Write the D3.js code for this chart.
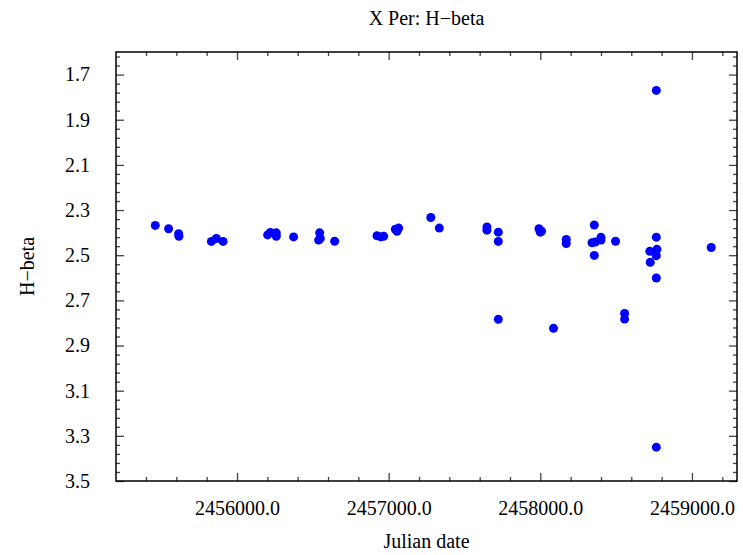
<!DOCTYPE html>
<html>
<head>
<meta charset="utf-8">
<script src="https://cdn.jsdelivr.net/npm/d3@7"></script>
<style>
  body { margin: 0; background: #fff; }
  text { font-family: "Liberation Serif", "Times New Roman", serif; fill: #000; }
</style>
</head>
<body>
<div id="scatter"></div>
<script>
var julianDates = [
    2455461, 2455549, 2455615, 2455617, 2455831, 2455864, 2455908,
    2456202, 2456220, 2456259, 2456259, 2456373, 2456545, 2456538, 2456549, 2456644,
    2456923, 2456949, 2456967, 2457044, 2457066, 2457055, 2457278, 2457334,
    2457648, 2457648, 2457723, 2457723, 2457723, 2457991, 2458000, 2458008, 2458087,
    2458171, 2458171, 2458356, 2458341, 2458362, 2458400, 2458400, 2458356, 2458496,
    2458556, 2458556, 2458765, 2458722, 2458769, 2458765, 2458725, 2458765,
    2458765, 2458765, 2459127
];
var hbetaValues = [
    2.368, 2.383, 2.405, 2.416, 2.439, 2.426, 2.439,
    2.410, 2.399, 2.401, 2.416, 2.419, 2.401, 2.433, 2.426, 2.438,
    2.414, 2.419, 2.416, 2.385, 2.380, 2.394, 2.333, 2.380,
    2.375, 2.389, 2.398, 2.439, 2.784, 2.383, 2.398, 2.394, 2.824,
    2.430, 2.448, 2.366, 2.445, 2.442, 2.421, 2.433, 2.501, 2.438,
    2.758, 2.783, 2.420, 2.483, 2.474, 2.502, 2.531, 2.601,
    1.770, 3.350, 2.466
];
var xTickValues = [2456000, 2457000, 2458000, 2459000];
var yTickValues = [1.7, 1.9, 2.1, 2.3, 2.5, 2.7, 2.9, 3.1, 3.3, 3.5];
var xDomain = [2455202, 2459297];
var yDomain = [1.6, 3.5];

var titleText = "X Per: H\u2212beta";
var xLabelText = "Julian date";
var yLabelText = "H\u2212beta";

var svgWidth = 743;
var svgHeight = 555;
var fontSize = 20;

var margin = { top: 52, right: 6, bottom: 74, left: 116 };
var width = svgWidth - margin.left - margin.right;
var height = svgHeight - margin.top - margin.bottom;

var data = julianDates.map((d, i) => ({ jd: d, hb: hbetaValues[i] }));

var svg = d3.select("#scatter")
    .append("svg")
    .attr("width", svgWidth)
    .attr("height", svgHeight);

var chartGroup = svg.append("g")
    .attr("transform", `translate(${margin.left}, ${margin.top})`);

// scales (y runs downward like a magnitude axis)
var xScale = d3.scaleLinear().domain(xDomain).range([0, width]);
var yScale = d3.scaleLinear().domain(yDomain).range([0, height]);

// minor ticks every 200 days and every 0.04
var xMinor = d3.range(2455400, xDomain[1], 200).filter(v => v % 1000 !== 0);
var yMinor = d3.range(-2, 48).map(k => +(1.7 + k * 0.04).toFixed(2))
    .filter(v => v > yDomain[0] && v < yDomain[1])
    .filter(v => yTickValues.indexOf(v) < 0);

function styleTicks(g) {
    g.select(".domain").remove();
    g.selectAll(".tick line").attr("stroke", "#444").attr("stroke-width", 1.3);
}

// bottom axis with labels
chartGroup.append("g")
    .attr("transform", `translate(0, ${height})`)
    .call(d3.axisBottom(xScale).tickValues(xTickValues).tickSize(-8).tickPadding(20)
        .tickFormat(d => d3.format(".1f")(d)))
    .call(styleTicks)
    .call(g => g.selectAll("text").attr("font-size", fontSize).attr("font-family", "Liberation Serif"));

chartGroup.append("g")
    .attr("transform", `translate(0, ${height})`)
    .call(d3.axisBottom(xScale).tickValues(xMinor).tickSize(-4).tickFormat(""))
    .call(styleTicks);

// top axis, ticks only
chartGroup.append("g")
    .call(d3.axisTop(xScale).tickValues(xTickValues).tickSize(-8).tickFormat(""))
    .call(styleTicks);
chartGroup.append("g")
    .call(d3.axisTop(xScale).tickValues(xMinor).tickSize(-4).tickFormat(""))
    .call(styleTicks);

// left axis with labels
chartGroup.append("g")
    .call(d3.axisLeft(yScale).tickValues(yTickValues).tickSize(-8).tickPadding(26)
        .tickFormat(d3.format(".1f")))
    .call(styleTicks)
    .call(g => g.selectAll("text").attr("font-size", fontSize).attr("font-family", "Liberation Serif"));
chartGroup.append("g")
    .call(d3.axisLeft(yScale).tickValues(yMinor).tickSize(-4).tickFormat(""))
    .call(styleTicks);

// right axis, ticks only
chartGroup.append("g")
    .attr("transform", `translate(${width}, 0)`)
    .call(d3.axisRight(yScale).tickValues(yTickValues).tickSize(-8).tickFormat(""))
    .call(styleTicks);
chartGroup.append("g")
    .attr("transform", `translate(${width}, 0)`)
    .call(d3.axisRight(yScale).tickValues(yMinor).tickSize(-4).tickFormat(""))
    .call(styleTicks);

// plot frame
chartGroup.append("rect")
    .attr("width", width)
    .attr("height", height)
    .attr("fill", "none")
    .attr("stroke", "#000")
    .attr("stroke-width", 1.5);

// the dots
chartGroup.selectAll("circle")
    .data(data)
    .enter()
    .append("circle")
    .attr("cx", d => xScale(d.jd))
    .attr("cy", d => yScale(d.hb))
    .attr("r", 4.5)
    .attr("fill", "#0000ff");

// title and axis labels
svg.append("text")
    .attr("x", margin.left + width / 2)
    .attr("y", 25)
    .attr("text-anchor", "middle")
    .attr("font-size", fontSize)
    .text(titleText);

svg.append("text")
    .attr("x", margin.left + width / 2)
    .attr("y", 548)
    .attr("text-anchor", "middle")
    .attr("font-size", fontSize)
    .text(xLabelText);

svg.append("text")
    .attr("transform", "rotate(-90)")
    .attr("x", -(margin.top + height / 2))
    .attr("y", 34)
    .attr("text-anchor", "middle")
    .attr("font-size", fontSize)
    .text(yLabelText);
</script>
</body>
</html>
